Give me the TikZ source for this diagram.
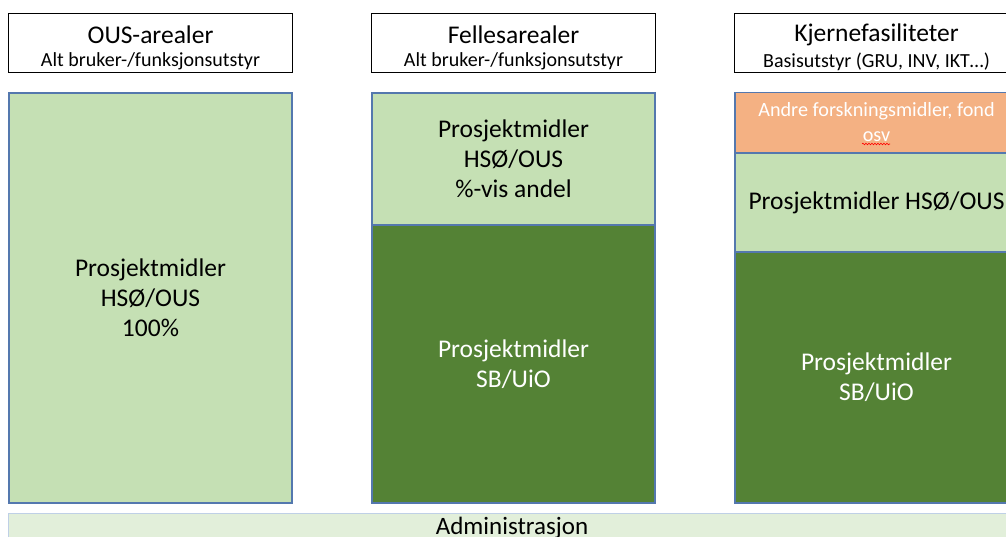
\documentclass[tikz,border=0pt]{standalone}
\usepackage{fontspec}
\setmainfont{Carlito}
\usetikzlibrary{decorations.pathmorphing}
\definecolor{lgreen}{HTML}{C5E0B4}
\definecolor{dgreen}{HTML}{548235}
\definecolor{orng}{HTML}{F4B183}
\definecolor{admin}{HTML}{E2EFDA}
\definecolor{bord}{HTML}{5478AE}
\definecolor{adbord}{HTML}{BFD0E6}
\begin{document}
\begin{tikzpicture}[x=1pt,y=-1pt,
  hdr/.style={draw=black,line width=0.8pt,fill=white,minimum width=284pt,minimum height=59pt,inner sep=0pt},
  blk/.style={draw=bord,line width=1.1pt,minimum width=283pt,inner sep=0pt,align=center,font=\fontsize{25.5}{30}\selectfont},
  lg/.style={blk,fill=lgreen,text=black},
  dg/.style={blk,fill=dgreen,text=white},
  og/.style={blk,fill=orng,text=white,font=\fontsize{20.2}{25}\selectfont},
  ttl/.style={font=\fontsize{25.5}{28}\selectfont,inner sep=0pt},
  sub/.style={font=\fontsize{20}{22}\selectfont,inner sep=0pt}]
\useasboundingbox (0,0) rectangle (1006,536);
\clip (0,0) rectangle (1006,536);
\fill[white] (0,0) rectangle (1006,536);
% headers
\node[hdr] (h1) at (150.5,42.5) {};
\node[hdr] (h2) at (513.5,42.5) {};
\node[hdr] (h3) at (876.5,42.5) {};
\node[ttl] (t1) at (150.5,35) {OUS-arealer};
\node[sub] (s1) at (150.5,61.5) {Alt bruker-/funksjonsutstyr};
\node[ttl] (t2) at (513.5,35) {Fellesarealer};
\node[sub] (s2) at (513.5,61.5) {Alt bruker-/funksjonsutstyr};
\node[ttl] (t3) at (876.5,35) {Kjernefasiliteter};
\node[sub] (s3) at (876.5,61.5) {Basisutstyr (GRU, INV, IKT\dots)};
% column 1
\node[lg,minimum height=410pt] (c1) at (150.5,298) {Prosjektmidler\\HSØ/OUS\\100\%};
% column 2
\node[lg,minimum height=132pt] (c2a) at (513.5,159) {Prosjektmidler\\HSØ/OUS\\\%-vis andel};
\node[dg,minimum height=278pt] (c2b) at (513.5,364) {Prosjektmidler\\SB/UiO};
% column 3
\node[og,minimum height=60pt] (c3a) at (876.5,122.5) {Andre forskningsmidler, fond\\osv};
\node[lg,minimum height=99pt] (c3b) at (876.5,203) {Prosjektmidler HSØ/OUS};
\node[dg,minimum height=251pt] (c3c) at (876.5,377.5) {Prosjektmidler\\SB/UiO};
\coordinate (w1) at (862,144);
\coordinate (w2) at (890,144);
\draw[red,line width=0.6pt,decorate,decoration={snake,amplitude=0.8pt,segment length=3pt}] (w1) -- (w2);
% admin bar
\node[draw=adbord,line width=1pt,fill=admin,minimum width=1008pt,minimum height=40pt,inner sep=0pt,anchor=north west] (ad) at (8,513) {};
\node[font=\fontsize{25}{28}\selectfont,inner sep=0pt] (adt) at (512,527.5) {Administrasjon};
\end{tikzpicture}
\end{document}
